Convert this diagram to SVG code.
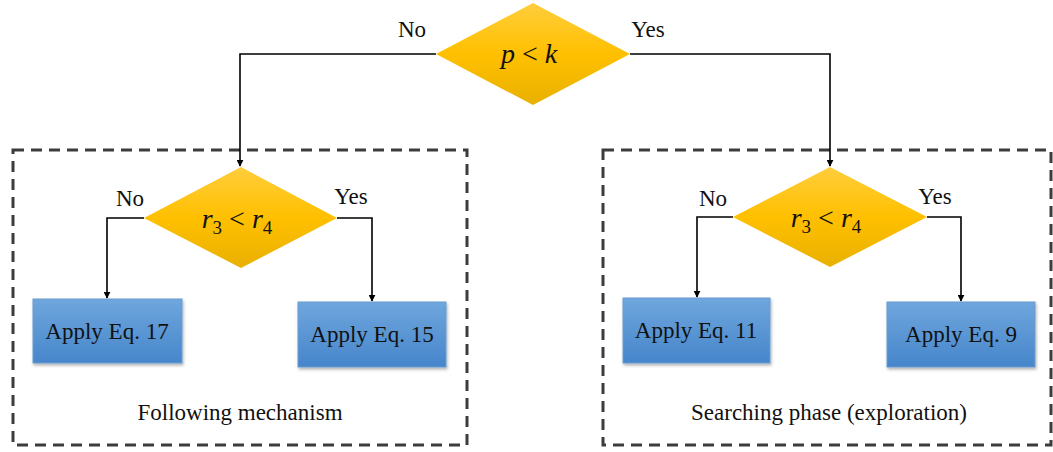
<svg xmlns="http://www.w3.org/2000/svg" width="1053" height="452" viewBox="0 0 1053 452">
<style>
.t{font-family:"Liberation Serif","Times New Roman",serif;font-size:23px;fill:#111;text-anchor:middle}
.m{font-family:"Liberation Serif","Times New Roman",serif;font-size:28px;fill:#111;text-anchor:middle}
.i{font-style:italic}
.dia{fill:url(#gy)}
.box{fill:url(#gb);stroke:#6b9bd0;stroke-width:1;filter:url(#sh)}
.frame{fill:none;stroke:#3c3c3c;stroke-width:3;stroke-dasharray:11 7}
.c{fill:none;stroke:#000;stroke-width:1.6}
</style>
<defs>
<linearGradient id="gy" x1="0" y1="0" x2="0" y2="1">
<stop offset="0" stop-color="#ffcd3c"/><stop offset="0.5" stop-color="#ffc000"/><stop offset="1" stop-color="#e9b000"/>
</linearGradient>
<linearGradient id="gb" x1="0" y1="0" x2="0" y2="1">
<stop offset="0" stop-color="#6fa6dd"/><stop offset="1" stop-color="#4686cb"/>
</linearGradient>
<filter id="sh" x="-10%" y="-10%" width="120%" height="130%">
<feDropShadow dx="1" dy="2" stdDeviation="1.5" flood-color="#000" flood-opacity="0.3"/>
</filter>
<marker id="ar" viewBox="0 0 10 10" refX="9" refY="5" markerWidth="7" markerHeight="7" orient="auto" markerUnits="userSpaceOnUse">
<path d="M0,0 L10,5 L0,10 z" fill="#000"/>
</marker>
</defs>

<g id="frames">
<rect id="frame-left" class="frame" x="13" y="150" width="454" height="295"/>
<rect id="frame-right" class="frame" x="603" y="150" width="448" height="295"/>
</g>

<g id="connectors">
<path class="c" d="M436,54 H240 V166" marker-end="url(#ar)"/>
<path class="c" d="M630,54 H830 V166" marker-end="url(#ar)"/>
<path class="c" d="M144,218 H107 V298" marker-end="url(#ar)"/>
<path class="c" d="M337,218 H372 V301" marker-end="url(#ar)"/>
<path class="c" d="M733,217 H697 V297" marker-end="url(#ar)"/>
<path class="c" d="M927,217 H961 V301" marker-end="url(#ar)"/>
</g>

<g id="labels">
<text class="t" x="412" y="37">No</text>
<text class="t" x="648" y="37">Yes</text>
<text class="t" x="130" y="206">No</text>
<text class="t" x="351" y="204">Yes</text>
<text class="t" x="713" y="206">No</text>
<text class="t" x="935" y="204">Yes</text>
<text class="t" x="240" y="420">Following mechanism</text>
<text class="t" x="829" y="420">Searching phase (exploration)</text>
</g>

<g id="node-top">
<polygon class="dia" points="533,3 630,54 533,105 436,54"/>
<text class="m" x="529" y="63"><tspan class="i">p</tspan> &lt; <tspan class="i">k</tspan></text>
</g>

<g id="node-left-decision">
<polygon class="dia" points="241,167 337,218 241,268 144,218"/>
<text class="m" x="237" y="228"><tspan class="i">r</tspan><tspan font-size="19" dy="6">3</tspan><tspan dy="-6"> &lt; </tspan><tspan class="i">r</tspan><tspan font-size="19" dy="6">4</tspan></text>
</g>

<g id="node-right-decision">
<polygon class="dia" points="830,167 927,217 830,267 733,217"/>
<text class="m" x="826" y="227"><tspan class="i">r</tspan><tspan font-size="19" dy="6">3</tspan><tspan dy="-6"> &lt; </tspan><tspan class="i">r</tspan><tspan font-size="19" dy="6">4</tspan></text>
</g>

<g id="node-eq17">
<rect class="box" x="33" y="299" width="149" height="64"/>
<text class="t" x="107" y="339">Apply Eq. 17</text>
</g>
<g id="node-eq15">
<rect class="box" x="298" y="302" width="148" height="65"/>
<text class="t" x="372" y="342">Apply Eq. 15</text>
</g>
<g id="node-eq11">
<rect class="box" x="623" y="298" width="147" height="65"/>
<text class="t" x="696" y="338">Apply Eq. 11</text>
</g>
<g id="node-eq9">
<rect class="box" x="887" y="302" width="148" height="65"/>
<text class="t" x="961" y="342">Apply Eq. 9</text>
</g>
</svg>
